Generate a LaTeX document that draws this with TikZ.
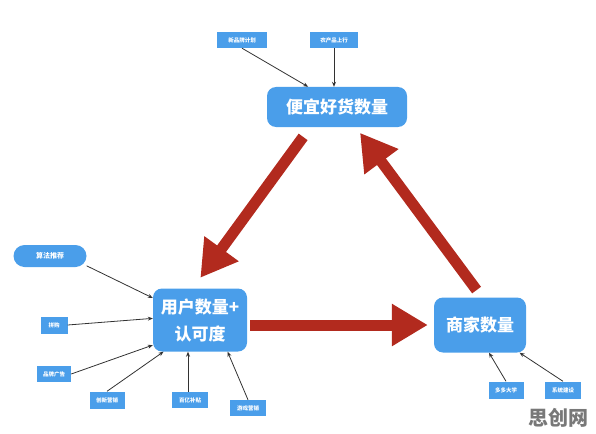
\documentclass[tikz,border=0pt]{standalone}
\usepackage{fontspec}
\newfontfamily\cjk{Noto Sans CJK SC}
\usetikzlibrary{arrows.meta,calc}
\definecolor{boxblue}{RGB}{74,158,234}
\definecolor{bigred}{RGB}{178,42,30}
\definecolor{thingray}{RGB}{50,50,50}
\definecolor{wmgray}{RGB}{120,120,120}
\tikzset{
  mainbox/.style={fill=boxblue, rounded corners=9pt, text=white, font=\cjk\bfseries\fontsize{17}{27}\selectfont, align=center, inner sep=0pt},
  tagbox/.style={fill=boxblue, text=white, font=\cjk\bfseries\fontsize{5.5}{6}\selectfont, inner sep=0pt, minimum height=16pt},
  pillbox/.style={fill=boxblue, rounded corners=11pt, text=white, font=\cjk\bfseries\fontsize{7}{8}\selectfont, inner sep=0pt},
  bigarrow/.style={draw=bigred, line width=11pt, -{Triangle[length=36pt,width=40pt]}, fill=bigred},
  thinarrow/.style={draw=thingray, line width=0.8pt, -{Stealth[length=5pt,width=4pt]}},
}
\begin{document}
\begin{tikzpicture}[x=1pt,y=-1pt]
\useasboundingbox (0,0) rectangle (596,433);
% main nodes
\node[mainbox, minimum width=140pt, minimum height=40pt] (pianyi) at (337,107) {便宜好货数量};
\node[mainbox, minimum width=94pt, minimum height=63pt] (user) at (200,320) {用户数量+\\认可度};
\node[mainbox, minimum width=92pt, minimum height=55pt] (shangjia) at (480,325) {商家数量};
% small tags
\node[tagbox, minimum width=50pt] (xinpin) at (242,40) {新品牌计划};
\node[tagbox, minimum width=48pt] (nongchan) at (334,40) {农产品上行};
\node[pillbox, minimum width=73pt, minimum height=22pt] (suanfa) at (50,256) {算法推荐};
\node[tagbox, minimum width=27pt, minimum height=17pt] (pingou) at (54,325) {拼购};
\node[tagbox, minimum width=34pt] (pinpai) at (54,374) {品牌广告};
\node[tagbox, minimum width=35pt, minimum height=17pt] (chuangxin) at (107,400) {创新营销};
\node[tagbox, minimum width=36pt] (baiyi) at (190,400) {百亿补贴};
\node[tagbox, minimum width=36pt] (youxi) at (248,408) {游戏营销};
\node[tagbox, minimum width=35pt, minimum height=17pt] (duoduo) at (506,390) {多多大学};
\node[tagbox, minimum width=36pt, minimum height=17pt] (xitong) at (563,390) {系统建设};
% watermark
\node[font=\cjk\bfseries\fontsize{20}{20}\selectfont, text=wmgray, inner sep=0pt] (wm) at (558,418) {思创网};
% big red arrows
\draw[bigarrow, shorten <=12pt, shorten >=13pt] (pianyi.-143) -- (user.103);
\draw[bigarrow, shorten <=9pt, shorten >=7pt] (shangjia.86) -- (pianyi.-47);
\draw[bigarrow, shorten >=6pt] ($(user.east)+(3,5)$) -- (shangjia.west);
% thin arrows
\draw[thinarrow] (xinpin.south) -- (pianyi.145);
\draw[thinarrow] (nongchan.south) -- (nongchan.south |- pianyi.north);
\draw[thinarrow] (suanfa.-15) -- (user.155);
\draw[thinarrow] (pingou.east) -- (user.178);
\draw[thinarrow] (pinpai.east) -- (user.208);
\draw[thinarrow] (chuangxin.north) -- (user.221);
\draw[thinarrow] (baiyi.north -| 188,0) -- (user.south -| 188,0);
\draw[thinarrow] (youxi.north) -- (user.-49);
\draw[thinarrow] (duoduo.north) -- (shangjia.-72);
\draw[thinarrow] (xitong.north) -- (shangjia.-35);
\end{tikzpicture}
\end{document}
